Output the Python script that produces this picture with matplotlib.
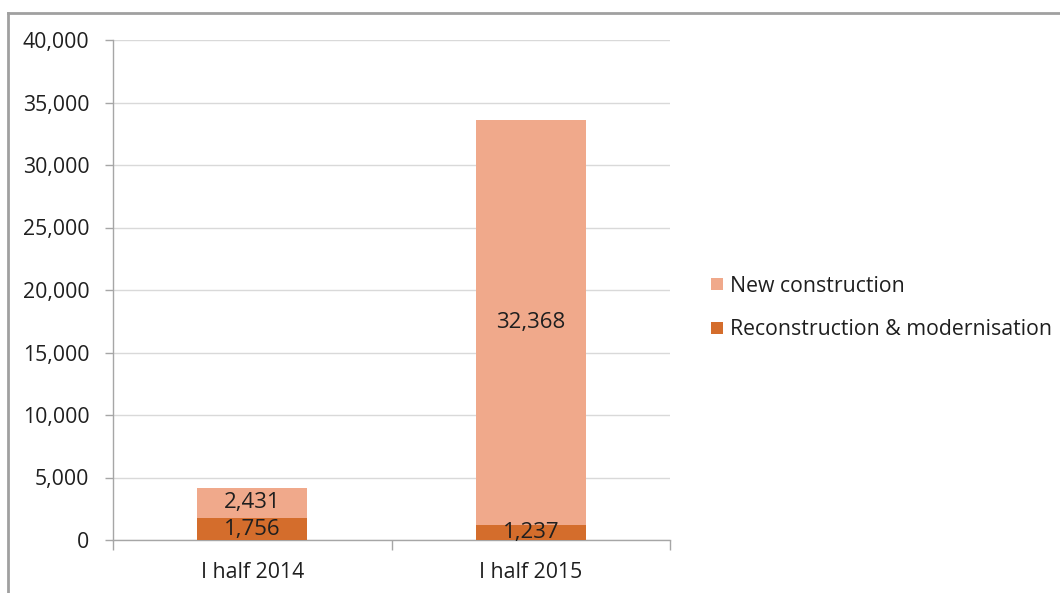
import matplotlib
matplotlib.use("Agg")
import matplotlib.pyplot as plt
from matplotlib.lines import Line2D
from matplotlib.ticker import FuncFormatter

categories = ["I half 2014", "I half 2015"]
reconstruction = [1756, 1237]
new_construction = [2431, 32368]
series_names = ["New construction", "Reconstruction & modernisation"]
yticks = [0, 5000, 10000, 15000, 20000, 25000, 30000, 35000, 40000]

plt.rcParams['font.family'] = ['Open Sans', 'DejaVu Sans']

c_new = "#F0A98B"
c_rec = "#D46D2C"
grey = "#A6A6A6"
txt = "#1F1F1F"
FS = 15.3

fig = plt.figure(figsize=(10.6, 5.93), dpi=100)
ax = fig.add_axes([113/1060, 53/593, (670-113)/1060, 500/593])

x = list(range(len(categories)))
b1 = ax.bar(x, reconstruction, width=0.395, color=c_rec, label=series_names[1], zorder=3)
b2 = ax.bar(x, new_construction, width=0.395, bottom=reconstruction, color=c_new,
            label=series_names[0], zorder=3)

for rect, v in zip(b1, reconstruction):
    ax.text(rect.get_x() + rect.get_width()/2, rect.get_y() + rect.get_height()/2, f"{v:,}",
            ha="center", va="center", fontsize=16, color=txt, zorder=4)
for rect, v in zip(b2, new_construction):
    ax.text(rect.get_x() + rect.get_width()/2, rect.get_y() + rect.get_height()/2, f"{v:,}",
            ha="center", va="center", fontsize=16, color=txt, zorder=4)

ax.set_xlim(-0.5, 1.5)
ax.set_ylim(0, 40000)
ax.set_yticks(yticks)
ax.yaxis.set_major_formatter(FuncFormatter(lambda v, p: f"{int(v):,}"))
ax.set_xticks([-0.5, 0.5, 1.5], minor=False)
ax.set_xticklabels([])
ax.set_xticks(x, minor=True)
ax.set_xticklabels(categories, minor=True)
ax.tick_params(axis="x", which="major", length=7, width=1, color=grey, direction="out")
ax.tick_params(axis="x", which="minor", length=0, pad=16, labelsize=FS, labelcolor=txt)
ax.tick_params(axis="y", length=6, width=1, color=grey, pad=11, labelsize=FS, labelcolor=txt)

ax.grid(axis="y", color="#D9D9D9", linewidth=1, zorder=0)
for s in ["top", "right"]:
    ax.spines[s].set_visible(False)
for s in ["left", "bottom"]:
    ax.spines[s].set_color(grey)
    ax.spines[s].set_linewidth(1)

handles = [b2, b1]
leg = fig.legend(handles, series_names, loc="center left", bbox_to_anchor=(711/1060, 1 - 308/593),
                 frameon=False, fontsize=FS, handlelength=0.55, handleheight=0.55,
                 handletextpad=0.35, labelspacing=1.08, borderpad=0, borderaxespad=0)
for t in leg.get_texts():
    t.set_color(txt)

fig.add_artist(Line2D([8/1060, 1.0], [1 - 13/593, 1 - 13/593], color="#A0A0A0", linewidth=2,
                      transform=fig.transFigure))
fig.add_artist(Line2D([8/1060, 8/1060], [0, 1 - 13/593], color="#A0A0A0", linewidth=2,
                      transform=fig.transFigure))

fig.savefig("out.png", dpi=100)
